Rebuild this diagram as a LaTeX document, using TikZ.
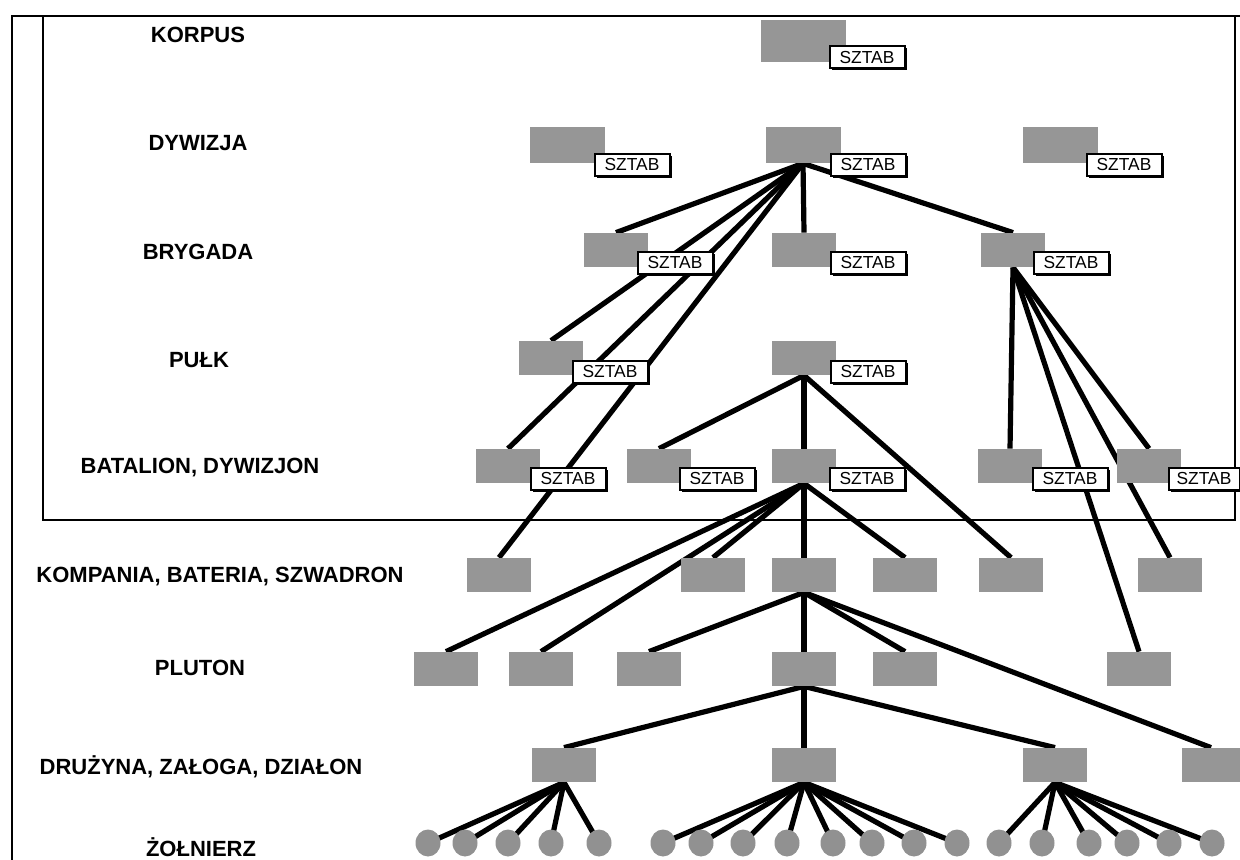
\documentclass[tikz,border=0pt]{standalone}
\usepackage{fontspec}
\setmainfont{Liberation Sans}
\usetikzlibrary{backgrounds,shadows,shapes.geometric}
\definecolor{boxgray}{RGB}{150,150,150}
\definecolor{dotgray}{RGB}{145,145,145}
\begin{document}
\begin{tikzpicture}[x=0.5pt,y=-0.5pt,
  unit/.style={rectangle, fill=boxgray, inner sep=0pt, minimum width=32pt, minimum height=17pt},
  bigunit/.style={unit, minimum width=37.5pt, minimum height=18pt},
  hq/.style={rectangle, draw=black, line width=1pt, fill=white, inner sep=0pt,
    minimum width=37.5pt, minimum height=11pt, font=\fontsize{8.7}{9}\selectfont,
    drop shadow={shadow xshift=1pt, shadow yshift=-1pt, fill=black, opacity=1}},
  soldier/.style={ellipse, fill=dotgray, inner sep=0pt, minimum width=12.5pt, minimum height=13.5pt},
  lvl/.style={font=\fontsize{11}{12}\selectfont\bfseries, inner sep=0pt},
  link/.style={line width=2.6pt},
  framel/.style={line width=1.4pt}]
\useasboundingbox (0,0) rectangle (1240,860);

% level labels
\node[lvl] (tk) at (198,35) {KORPUS};
\node[lvl] (td) at (198,143) {DYWIZJA};
\node[lvl] (tb) at (198,252) {BRYGADA};
\node[lvl] (tp) at (199,360) {PUŁK};
\node[lvl] (ta) at (200,468) {BATALION, DYWIZJON};
\node[lvl] (tc) at (220,577) {KOMPANIA, BATERIA, SZWADRON};
\node[lvl] (tl) at (200,668) {PLUTON};
\node[lvl] (tr) at (201,767) {DRUŻYNA, ZAŁOGA, DZIAŁON};
\node[lvl] (ts) at (201,847) {ŻOŁNIERZ};

% KORPUS
\node[unit, minimum width=42.5pt, minimum height=21pt] (k) at (803,41) {};
\node[hq] (ks) at (867,57.5) {SZTAB};
% DYWIZJA
\node[bigunit] (d1) at (567,145) {};
\node[bigunit] (d2) at (803,145) {};
\node[bigunit] (d3) at (1060,145) {};
\node[hq] (d1s) at (632,165) {SZTAB};
\node[hq] (d2s) at (868,165) {SZTAB};
\node[hq] (d3s) at (1124,165) {SZTAB};
% BRYGADA
\node[unit] (b1) at (616,250) {};
\node[unit] (b2) at (804,250) {};
\node[unit] (b3) at (1013,250) {};
\node[hq] (b1s) at (675,263) {SZTAB};
\node[hq] (b2s) at (868,263) {SZTAB};
\node[hq] (b3s) at (1071,263) {SZTAB};
% PULK
\node[unit] (p1) at (551,358) {};
\node[unit] (p2) at (804,358) {};
\node[hq] (p1s) at (610,372) {SZTAB};
\node[hq] (p2s) at (868,372) {SZTAB};
% BATALION
\node[unit] (a1) at (508,466) {};
\node[unit] (a2) at (659,466) {};
\node[unit] (a3) at (804,466) {};
\node[unit] (a4) at (1010,466) {};
\node[unit] (a5) at (1149,466) {};
\node[hq] (a1s) at (568,479) {SZTAB};
\node[hq] (a2s) at (717,479) {SZTAB};
\node[hq] (a3s) at (867,479) {SZTAB};
\node[hq] (a4s) at (1070,479) {SZTAB};
\node[hq, minimum width=35.5pt] (a5s) at (1204,479) {SZTAB};
% KOMPANIA
\node[unit] (c1) at (499,575) {};
\node[unit] (c2) at (713,575) {};
\node[unit] (c3) at (804,575) {};
\node[unit] (c4) at (905,575) {};
\node[unit] (c5) at (1011,575) {};
\node[unit] (c6) at (1170,575) {};
% PLUTON
\node[unit] (l1) at (446,669) {};
\node[unit] (l2) at (541,669) {};
\node[unit] (l3) at (649,669) {};
\node[unit] (l4) at (804,669) {};
\node[unit] (l5) at (905,669) {};
\node[unit] (l6) at (1139,669) {};
% DRUZYNA
\node[unit] (r1) at (564,765) {};
\node[unit] (r2) at (804,765) {};
\node[unit] (r3) at (1055,765) {};
\node[unit, minimum width=29pt] (r4) at (1211,765) {};
% ZOLNIERZ
\foreach \i/\x in {1/428,2/465,3/508,4/551,5/599,
                   6/663,7/701,8/743,9/787,10/833,11/872,12/914,13/957,
                   14/999,15/1042,16/1089,17/1127,18/1169,19/1212}
  \node[soldier] (s\i) at (\x,843) {};

\begin{pgfonlayer}{background}
  % frame
  \draw[framel] (12,860) -- (12,16) -- (1240,16);
  \draw[framel] (43,16) rectangle (1235,520);
  % links
  \foreach \t in {b1,b2,b3,p1,a1,c1} \draw[link] (d2.south) -- (\t.north);
  \foreach \t in {a2,a3,c5} \draw[link] (p2.south) -- (\t.north);
  \foreach \t in {l1,l2,c2,c3,c4} \draw[link] (a3.south) -- (\t.north);
  \foreach \t in {a4,a5,l6,c6} \draw[link] (b3.south) -- (\t.north);
  \foreach \t in {l3,l4,l5,r4} \draw[link] (c3.south) -- (\t.north);
  \foreach \t in {r1,r2,r3} \draw[link] (l4.south) -- (\t.north);
  \foreach \i in {1,...,5} \draw[link] (r1.south) -- (s\i.center);
  \foreach \i in {6,...,13} \draw[link] (r2.south) -- (s\i.center);
  \foreach \i in {14,...,19} \draw[link] (r3.south) -- (s\i.center);
\end{pgfonlayer}
\end{tikzpicture}
\end{document}
